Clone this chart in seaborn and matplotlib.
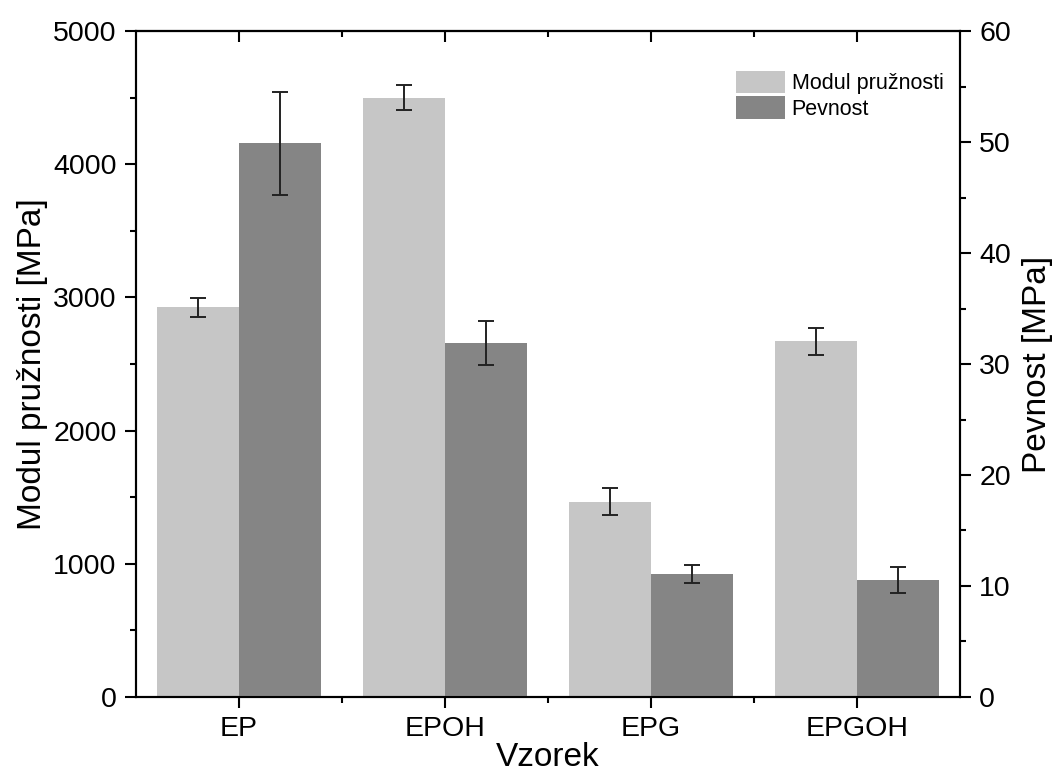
import pandas as pd
import matplotlib
matplotlib.use('Agg')
import matplotlib.pyplot as plt
import seaborn as sns
from matplotlib.patches import Patch
from matplotlib.ticker import MultipleLocator, FixedLocator

# Data
samples = ['EP', 'EPOH', 'EPG', 'EPGOH']
modul = [2925, 4500, 1465, 2670]
modul_err = [70, 92, 102, 100]
pevnost = [49.9, 31.9, 11.05, 10.55]
pevnost_err = [4.65, 2.0, 0.8, 1.2]

series = ['Modul pružnosti', 'Pevnost']
colors = {'Modul pružnosti': '#c6c6c6', 'Pevnost': '#858585'}

# long tables; the other series gets 0 so both keep their dodge slot
zeros = [0] * len(samples)
df_mod = pd.DataFrame({'Vzorek': samples * 2, 'value': modul + zeros,
                       'series': [series[0]] * 4 + [series[1]] * 4})
df_pev = pd.DataFrame({'Vzorek': samples * 2, 'value': zeros + pevnost,
                       'series': [series[0]] * 4 + [series[1]] * 4})

sns.set_style('white')
plt.rcParams['font.family'] = ['Liberation Sans', 'DejaVu Sans']
plt.rcParams['text.color'] = 'black'
plt.rcParams['axes.labelcolor'] = 'black'
plt.rcParams['xtick.color'] = 'black'
plt.rcParams['ytick.color'] = 'black'

fig = plt.figure(figsize=(10.63, 7.77), dpi=100)
ax = fig.add_axes([0.128, 0.103, 0.775, 0.857])
ax2 = ax.twinx()

# Modul on left axis, Pevnost on right axis, both dodged by hue
sns.barplot(data=df_mod, x='Vzorek', y='value', hue='series', hue_order=series,
            palette=colors, order=samples, errorbar=None, width=0.8,
            saturation=1, linewidth=0, legend=False, ax=ax)
sns.barplot(data=df_pev, x='Vzorek', y='value', hue='series', hue_order=series,
            palette=colors, order=samples, errorbar=None, width=0.8,
            saturation=1, linewidth=0, legend=False, ax=ax2)

# error bars at the bar centres
for axis, vals, errs in [(ax, modul, modul_err), (ax2, pevnost, pevnost_err)]:
    bars = [p for p in axis.patches if p.get_height() > 0]
    bars = sorted(bars, key=lambda p: p.get_x())
    xs = [p.get_x() + p.get_width() / 2 for p in bars]
    axis.errorbar(xs, vals, yerr=errs, fmt='none', ecolor='#222222',
                  elinewidth=1.4, capsize=5.5, capthick=1.4)

ax.set_xlim(-0.5, 3.5)
ax.set_ylim(0, 5000)
ax2.set_ylim(0, 60)

ax.set_xlabel('Vzorek', fontsize=24, labelpad=0)
ax.set_ylabel('Modul pružnosti [MPa]', fontsize=24, labelpad=4)
ax2.set_ylabel('Pevnost [MPa]', fontsize=24, labelpad=8)

ax.yaxis.set_major_locator(MultipleLocator(1000))
ax.yaxis.set_minor_locator(MultipleLocator(500))
ax2.yaxis.set_major_locator(MultipleLocator(10))
ax2.yaxis.set_minor_locator(MultipleLocator(5))
ax.xaxis.set_minor_locator(FixedLocator([0.5, 1.5, 2.5]))

ax.tick_params(axis='both', which='major', direction='out', length=8, width=1.5,
               labelsize=20.5, left=True, bottom=True, pad=6)
ax.tick_params(axis='both', which='minor', direction='out', length=4, width=1.5,
               left=True, bottom=True)
ax2.tick_params(axis='y', which='major', direction='out', length=8, width=1.5,
                labelsize=20.5, right=True, pad=6)
ax2.tick_params(axis='y', which='minor', direction='out', length=4, width=1.5,
                right=True)

# top axis ticks pointing inward
top = ax.secondary_xaxis('top')
top.set_xticks(range(len(samples)))
top.xaxis.set_minor_locator(FixedLocator([0.5, 1.5, 2.5]))
top.tick_params(which='major', direction='in', length=8, width=1.5, labeltop=False)
top.tick_params(which='minor', direction='in', length=4, width=1.5)

for a in (ax, ax2):
    for s in a.spines.values():
        s.set_linewidth(1.5)
        s.set_color('black')
top.spines['top'].set_linewidth(1.5)

handles = [Patch(facecolor=colors[s], edgecolor='none', label=s) for s in series]
ax2.legend(handles=handles, loc='upper right', bbox_to_anchor=(0.98, 0.94),
           frameon=False, fontsize=15.5, handlelength=2.3, handleheight=1.2,
           handletextpad=0.3, labelspacing=0.1, borderaxespad=0, borderpad=0)

fig.savefig('out.png', dpi=100)
